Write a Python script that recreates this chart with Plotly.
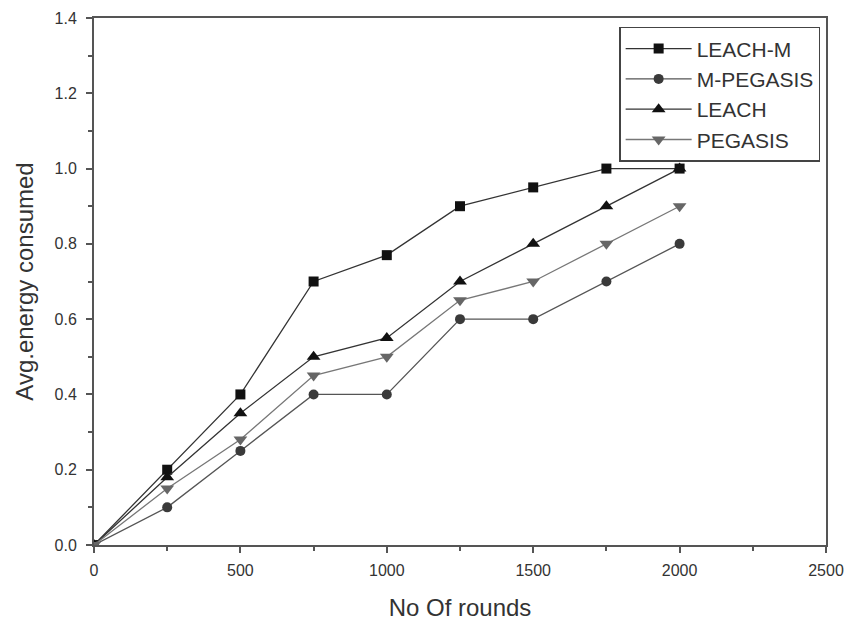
import plotly.graph_objects as go

rounds = [0, 250, 500, 750, 1000, 1250, 1500, 1750, 2000]
leach_m = [0.0, 0.2, 0.4, 0.7, 0.77, 0.9, 0.95, 1.0, 1.0]
m_pegasis = [0.0, 0.1, 0.25, 0.4, 0.4, 0.6, 0.6, 0.7, 0.8]
leach = [0.0, 0.18, 0.35, 0.5, 0.55, 0.7, 0.8, 0.9, 1.0]
pegasis = [0.0, 0.15, 0.28, 0.45, 0.5, 0.65, 0.7, 0.8, 0.9]

series = [
    ("LEACH-M", leach_m, "square", "#111111", "#333333", 10),
    ("M-PEGASIS", m_pegasis, "circle", "#3a3a3a", "#555555", 10),
    ("LEACH", leach, "triangle-up", "#111111", "#333333", 12),
    ("PEGASIS", pegasis, "triangle-down", "#666666", "#777777", 12),
]

FONT = "Liberation Sans, Arial, sans-serif"

fig = go.Figure()
for name, vals, sym, mcol, lcol, msize in series:
    fig.add_trace(go.Scatter(
        x=rounds, y=vals, name=name, mode="lines+markers",
        line=dict(color=lcol, width=1.3),
        marker=dict(symbol=sym, size=msize, color=mcol, line=dict(width=0)),
    ))

axis_common = dict(
    showline=True, linecolor="#555555", linewidth=2, mirror=True,
    ticks="outside", ticklen=6, tickwidth=1.5, tickcolor="#555555",
    showgrid=False, zeroline=False, automargin=False,
    tickfont=dict(family=FONT, size=16, color="#333333"),
)

fig.update_layout(
    width=848, height=621,
    margin=dict(l=94, r=22, t=18, b=76),
    paper_bgcolor="white", plot_bgcolor="white",
    font=dict(family=FONT, color="#333333"),
    xaxis=dict(
        range=[0, 2500], dtick=500, tick0=0,
        title=dict(text="No Of rounds", font=dict(size=24, color="#333333"), standoff=21),
        minor=dict(ticks="outside", ticklen=4, dtick=250, tick0=0, tickcolor="#555555"),
        ticklabelstandoff=4,
        **axis_common,
    ),
    yaxis=dict(
        range=[0, 1.4], dtick=0.2, tick0=0, tickformat=".1f",
        title=dict(text="Avg.energy consumed", font=dict(size=24, color="#333333"), standoff=14),
        minor=dict(ticks="outside", ticklen=4, dtick=0.1, tick0=0, tickcolor="#555555"),
        ticklabelstandoff=6,
        **axis_common,
    ),
    legend=dict(
        x=0.992, y=0.983, xanchor="right", yanchor="top",
        bgcolor="white", bordercolor="#444444", borderwidth=1.5,
        font=dict(size=21, color="#333333"),
        itemwidth=66,
    ),
    showlegend=True,
)

fig.write_html(
    "out.html",
    config={"displayModeBar": False},
    post_script="document.body.style.margin='0';document.body.style.overflow='hidden';",
)
